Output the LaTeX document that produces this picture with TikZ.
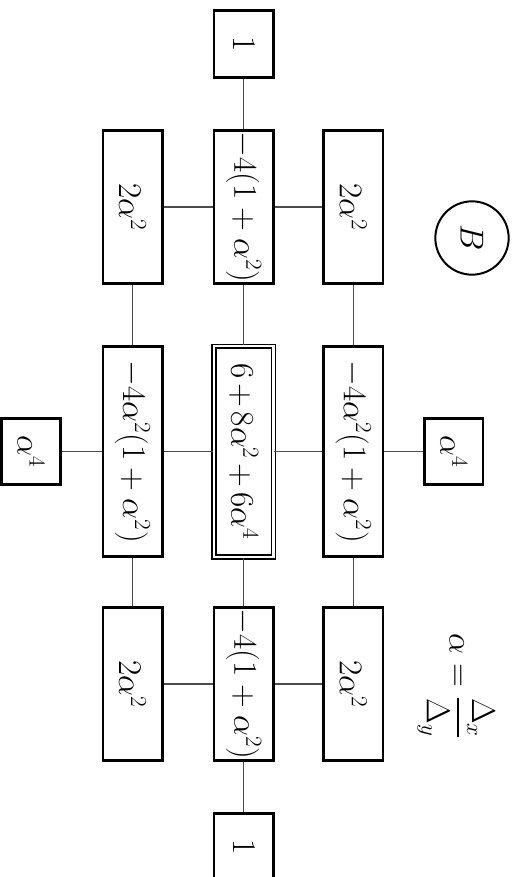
\documentclass[tikz,border=0pt]{standalone}
\usepackage{amsmath}
\usetikzlibrary{positioning}

\begin{document}
\begin{tikzpicture}[x=0.75pt,y=-0.75pt,
    box/.style={draw,line width=2pt,rotate=-90,inner sep=0pt,
      minimum height=44.5pt,font=\fontsize{25}{30}\selectfont},
    small/.style={box,minimum width=50.5pt},
    tall/.style={box,minimum width=115pt},
    taller/.style={box,minimum width=157.75pt},
    link/.style={line width=0.8pt,black!70}]
  \useasboundingbox (0,0) rectangle (521,877);

  %top and bottom
  \node[small] (one1) at (243.7,44) {$1$};
  \node[small] (one2) at (243.7,847) {$1$};

  %row 1
  \node[tall] (l1) at (132.5,207) {$2\alpha^2$};
  \node[tall] (c1) at (243.7,207) {$-4(1+\alpha^2)$};
  \node[tall] (r1) at (353.3,207) {$2\alpha^2$};

  %row 2
  \node[small,minimum width=49.75pt,minimum height=43.75pt] (al) at (31,451.5) {$\alpha^4$};
  \node[taller] (l2) at (132.5,451.5) {$-4\alpha^2(1+\alpha^2)$};
  \node[draw,double,line width=1.1pt,double distance=1.8pt,rotate=-90,inner sep=0pt,
    minimum width=158pt,minimum height=44.5pt,font=\fontsize{25}{30}\selectfont]
    (c2) at (243.7,451.5) {$\medmuskip=2.5mu 6+8\alpha^2+6\alpha^4$};
  \node[taller] (r2) at (353.3,451.5) {$-4\alpha^2(1+\alpha^2)$};
  \node[small,minimum width=49.75pt,minimum height=43.75pt] (ar) at (453.8,451.5) {$\alpha^4$};

  %row 3
  \node[tall] (l3) at (132.5,684) {$2\alpha^2$};
  \node[tall] (c3) at (243.7,684) {$-4(1+\alpha^2)$};
  \node[tall] (r3) at (353.3,684) {$2\alpha^2$};

  %labels
  \node[draw,circle,line width=1.5pt,minimum size=55pt,inner sep=0pt,rotate=-90,
    font=\fontsize{28}{32}\selectfont] (lbl) at (472,238) {$B$};
  \node[rotate=-90,font=\fontsize{26}{30}\selectfont] (ratio) at (456,686)
    {$\alpha=\dfrac{\Delta_x}{\Delta_y}$};

  %links
  \draw[link] (one1) -- (c1);
  \draw[link] (l1) -- (c1);
  \draw[link] (c1) -- (r1);
  \draw[link] (l1) -- (l2);
  \draw[link] (c1) -- (c2);
  \draw[link] (r1) -- (r2);
  \draw[link] (al) -- (l2);
  \draw[link] (l2) -- (c2);
  \draw[link] (c2) -- (r2);
  \draw[link] (r2) -- (ar);
  \draw[link] (l2) -- (l3);
  \draw[link] (c2) -- (c3);
  \draw[link] (r2) -- (r3);
  \draw[link] (l3) -- (c3);
  \draw[link] (c3) -- (r3);
  \draw[link] (c3) -- (one2);
\end{tikzpicture}
\end{document}
